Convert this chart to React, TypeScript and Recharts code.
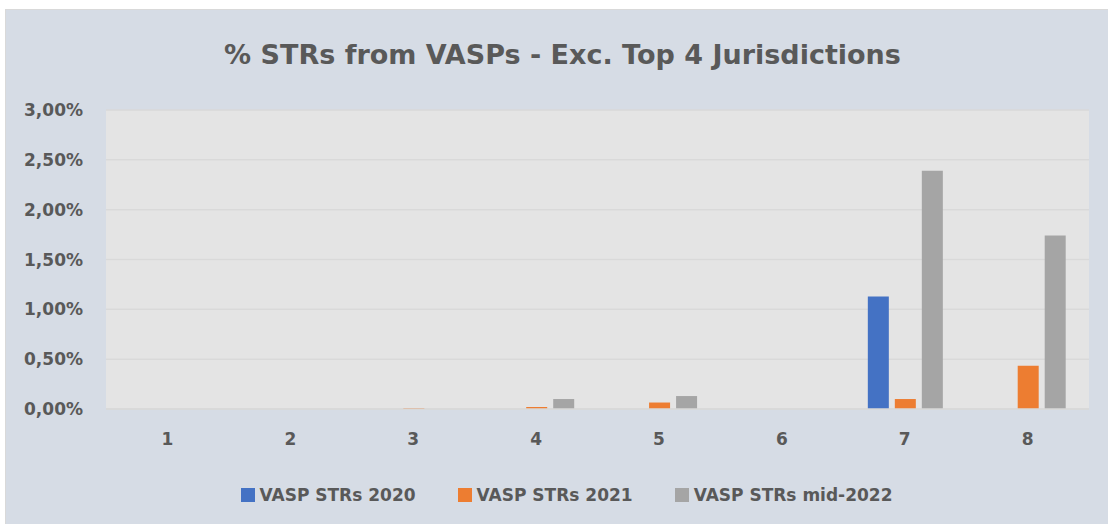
import { BarChart, Bar, XAxis, YAxis, CartesianGrid, Legend } from 'recharts';

const categories = ['1', '2', '3', '4', '5', '6', '7', '8'];
const vasp2020 = [0, 0, 0, 0, 0, 0, 1.13, 0];
const vasp2021 = [0, 0, 0.01, 0.02, 0.065, 0, 0.1, 0.435];
const vaspMid2022 = [0, 0, 0, 0.1, 0.13, 0, 2.39, 1.74];
const yTicks = [0, 0.5, 1, 1.5, 2, 2.5, 3];

const seriesList = [
  { key: 'v2020', name: 'VASP STRs 2020', color: '#4472c4' },
  { key: 'v2021', name: 'VASP STRs 2021', color: '#ed7d31' },
  { key: 'v2022', name: 'VASP STRs mid-2022', color: '#a5a5a5' },
];

const data = categories.map((c, i) => ({
  cat: c,
  v2020: vasp2020[i],
  v2021: vasp2021[i],
  v2022: vaspMid2022[i],
}));

const FONT = '"DejaVu Sans", sans-serif';
const TEXT = '#595959';

const formatPct = (v: number) => `${v.toFixed(2).replace('.', ',')}%`;

function LegendContent() {
  return (
    <div style={{ display: 'flex', justifyContent: 'center', gap: 42, fontFamily: FONT, fontWeight: 700, fontSize: 17, color: TEXT, paddingLeft: 38 }}>
      {seriesList.map((s) => (
        <div key={s.key} style={{ display: 'flex', alignItems: 'center' }}>
          <span style={{ width: 14, height: 14, background: s.color, marginRight: 5, display: 'inline-block' }} />
          <span>{s.name}</span>
        </div>
      ))}
    </div>
  );
}

export default function App() {
  return (
    <div
      style={{
        position: 'absolute',
        left: 5,
        top: 9,
        width: 1103,
        height: 515,
        background: '#d6dce5',
        border: '1px solid #d9d9d9',
      }}
    >
      <div
        style={{
          position: 'absolute',
          left: 5,
          top: 29,
          width: '100%',
          textAlign: 'center',
          fontFamily: FONT,
          fontWeight: 700,
          fontSize: 27,
          color: TEXT,
        }}
      >
        % STRs from VASPs - Exc. Top 4 Jurisdictions
      </div>
      <BarChart
        width={1103}
        height={515}
        data={data}
        margin={{ top: 100, right: 20, bottom: 0, left: 0 }}
        barCategoryGap="20%"
        barGap={6}
      >
        <CartesianGrid vertical={false} stroke="#d9d9d9" fill="#e4e4e4" strokeWidth={1.5} />
        <XAxis
          dataKey="cat"
          axisLine={{ stroke: '#d9d9d9', strokeWidth: 1.5 }}
          tickLine={false}
          tickMargin={18}
          height={116 - 40}
          tick={{ fill: TEXT, fontSize: 17, fontWeight: 700, fontFamily: FONT }}
        />
        <YAxis
          width={100}
          domain={[0, 3]}
          ticks={yTicks}
          tickFormatter={formatPct}
          axisLine={false}
          tickLine={false}
          tickMargin={17}
          tick={{ fill: TEXT, fontSize: 17, fontWeight: 700, fontFamily: FONT }}
        />
        <Legend verticalAlign="bottom" height={40} content={<LegendContent />} />
        {seriesList.map((s) => (
          <Bar key={s.key} dataKey={s.key} name={s.name} fill={s.color} isAnimationActive={false} />
        ))}
      </BarChart>
    </div>
  );
}
